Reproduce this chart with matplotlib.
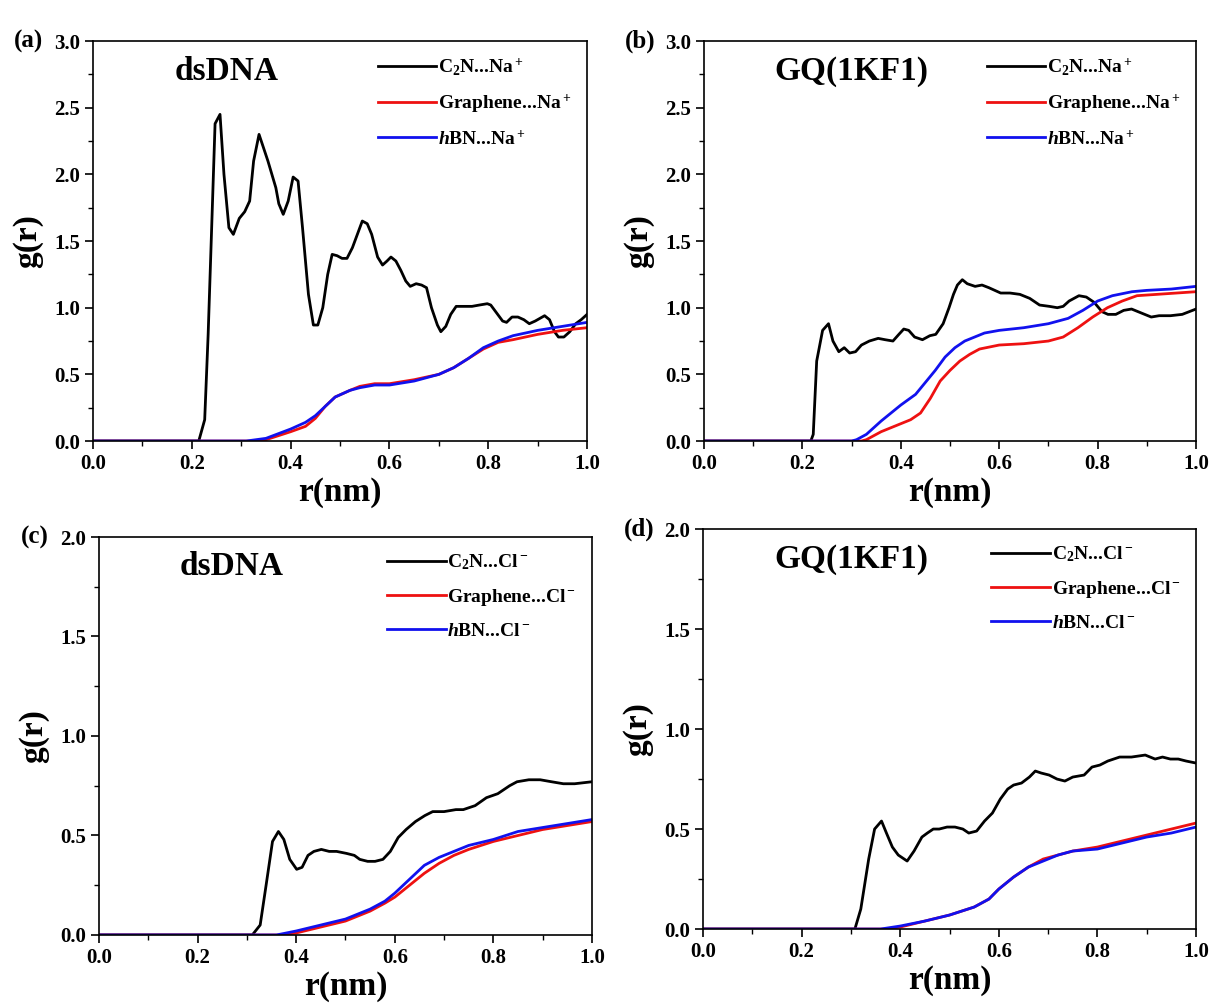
import matplotlib
matplotlib.use("Agg")
import matplotlib.pyplot as plt
from matplotlib.ticker import MultipleLocator, FormatStrFormatter

plt.rcParams['font.family'] = ['Liberation Serif', 'DejaVu Serif']
plt.rcParams['font.weight'] = 'bold'
plt.rcParams['mathtext.fontset'] = 'custom'
plt.rcParams['mathtext.rm'] = 'Liberation Serif:bold'
plt.rcParams['mathtext.bf'] = 'Liberation Serif:bold'
plt.rcParams['mathtext.it'] = 'Liberation Serif:bold:italic'

# ---- (a) dsDNA, Na+ ----
a_c2n_r = [0.0, 0.214, 0.226, 0.233, 0.241, 0.247, 0.257, 0.265, 0.275, 0.284, 0.296, 0.307,
           0.317, 0.325, 0.336, 0.354, 0.370, 0.376, 0.385, 0.395, 0.405, 0.415, 0.424,
           0.436, 0.446, 0.455, 0.465, 0.475, 0.484, 0.494, 0.504, 0.514, 0.525, 0.537,
           0.545, 0.555, 0.564, 0.576, 0.586, 0.595, 0.603, 0.613, 0.623, 0.633, 0.642,
           0.654, 0.665, 0.675, 0.685, 0.697, 0.704, 0.714, 0.724, 0.735, 0.751, 0.767,
           0.782, 0.798, 0.805, 0.817, 0.829, 0.837, 0.848, 0.860, 0.872, 0.883, 0.895,
           0.914, 0.924, 0.934, 0.942, 0.953, 0.965, 0.977, 0.988, 1.0]
a_c2n_g = [0.0, 0.0, 0.16, 0.8, 1.7, 2.38, 2.45, 2.0, 1.60, 1.55, 1.67, 1.72,
           1.80, 2.10, 2.30, 2.10, 1.90, 1.78, 1.70, 1.80, 1.98, 1.95, 1.60,
           1.10, 0.87, 0.87, 1.00, 1.25, 1.40, 1.39, 1.37, 1.37, 1.45, 1.57,
           1.65, 1.63, 1.55, 1.38, 1.32, 1.35, 1.38, 1.35, 1.28, 1.20, 1.16,
           1.18, 1.17, 1.15, 1.00, 0.87, 0.82, 0.86, 0.95, 1.01, 1.01, 1.01,
           1.02, 1.03, 1.02, 0.96, 0.90, 0.89, 0.93, 0.93, 0.91, 0.88, 0.90,
           0.94, 0.91, 0.82, 0.78, 0.78, 0.82, 0.88, 0.91, 0.95]
a_gra_r = [0.0, 0.33, 0.35, 0.40, 0.43, 0.45, 0.47, 0.49, 0.52, 0.54, 0.57, 0.60, 0.65,
           0.70, 0.73, 0.76, 0.79, 0.82, 0.85, 0.90, 0.95, 1.0]
a_gra_g = [0.0, 0.0, 0.01, 0.07, 0.11, 0.17, 0.26, 0.33, 0.38, 0.41, 0.43, 0.43, 0.46,
           0.50, 0.55, 0.62, 0.69, 0.74, 0.76, 0.80, 0.83, 0.85]
a_hbn_r = [0.0, 0.31, 0.35, 0.40, 0.43, 0.45, 0.47, 0.49, 0.52, 0.54, 0.57, 0.60, 0.65,
           0.70, 0.73, 0.76, 0.79, 0.82, 0.85, 0.90, 0.95, 1.0]
a_hbn_g = [0.0, 0.0, 0.02, 0.09, 0.14, 0.19, 0.26, 0.33, 0.38, 0.40, 0.42, 0.42, 0.45,
           0.50, 0.55, 0.62, 0.70, 0.75, 0.79, 0.83, 0.86, 0.89]

# ---- (b) GQ(1KF1), Na+ ----
b_c2n_r = [0.0, 0.217, 0.222, 0.229, 0.241, 0.253, 0.262, 0.274, 0.285, 0.296, 0.308, 0.320,
           0.336, 0.354, 0.368, 0.384, 0.396, 0.406, 0.416, 0.428, 0.444, 0.459, 0.471,
           0.486, 0.498, 0.507, 0.515, 0.525, 0.535, 0.551, 0.565, 0.579, 0.591, 0.603,
           0.622, 0.642, 0.662, 0.682, 0.702, 0.718, 0.730, 0.742, 0.762, 0.777, 0.793,
           0.809, 0.821, 0.837, 0.853, 0.869, 0.889, 0.909, 0.925, 0.948, 0.972, 1.0]
b_c2n_g = [0.0, 0.0, 0.05, 0.6, 0.83, 0.88, 0.75, 0.67, 0.70, 0.66, 0.67, 0.72,
           0.75, 0.77, 0.76, 0.75, 0.80, 0.84, 0.83, 0.78, 0.76, 0.79, 0.80,
           0.88, 1.00, 1.10, 1.17, 1.21, 1.18, 1.16, 1.17, 1.15, 1.13, 1.11,
           1.11, 1.10, 1.07, 1.02, 1.01, 1.00, 1.01, 1.05, 1.09, 1.08, 1.04,
           0.97, 0.95, 0.95, 0.98, 0.99, 0.96, 0.93, 0.94, 0.94, 0.95, 0.99]
b_gra_r = [0.0, 0.32, 0.33, 0.36, 0.40, 0.42, 0.44, 0.46, 0.48, 0.50, 0.52, 0.54, 0.56,
           0.60, 0.65, 0.70, 0.73, 0.76, 0.79, 0.82, 0.85, 0.88, 0.92, 1.0]
b_gra_g = [0.0, 0.0, 0.01, 0.07, 0.13, 0.16, 0.21, 0.32, 0.45, 0.53, 0.60, 0.65, 0.69,
           0.72, 0.73, 0.75, 0.78, 0.85, 0.93, 1.00, 1.05, 1.09, 1.10, 1.12]
b_hbn_r = [0.0, 0.30, 0.31, 0.33, 0.36, 0.38, 0.40, 0.43, 0.45, 0.47, 0.49, 0.51, 0.53,
           0.55, 0.57, 0.60, 0.65, 0.70, 0.74, 0.77, 0.80, 0.83, 0.87, 0.90, 0.95, 1.0]
b_hbn_g = [0.0, 0.0, 0.01, 0.05, 0.15, 0.21, 0.27, 0.35, 0.44, 0.53, 0.63, 0.70, 0.75,
           0.78, 0.81, 0.83, 0.85, 0.88, 0.92, 0.98, 1.05, 1.09, 1.12, 1.13, 1.14, 1.16]

# ---- (c) dsDNA, Cl- ----
c_c2n_r = [0.0, 0.311, 0.327, 0.339, 0.352, 0.364, 0.375, 0.387, 0.401, 0.412, 0.424, 0.436,
           0.451, 0.467, 0.482, 0.502, 0.518, 0.529, 0.545, 0.560, 0.576, 0.591, 0.607,
           0.623, 0.642, 0.661, 0.677, 0.700, 0.724, 0.739, 0.763, 0.786, 0.809, 0.833,
           0.848, 0.872, 0.895, 0.918, 0.942, 0.965, 1.0]
c_c2n_g = [0.0, 0.0, 0.05, 0.25, 0.47, 0.52, 0.48, 0.38, 0.33, 0.34, 0.40, 0.42,
           0.43, 0.42, 0.42, 0.41, 0.40, 0.38, 0.37, 0.37, 0.38, 0.42, 0.49,
           0.53, 0.57, 0.60, 0.62, 0.62, 0.63, 0.63, 0.65, 0.69, 0.71, 0.75,
           0.77, 0.78, 0.78, 0.77, 0.76, 0.76, 0.77]
c_gra_r = [0.0, 0.37, 0.40, 0.45, 0.50, 0.55, 0.58, 0.60, 0.63, 0.66, 0.69, 0.72, 0.75,
           0.80, 0.85, 0.90, 0.95, 1.0]
c_gra_g = [0.0, 0.0, 0.01, 0.04, 0.07, 0.12, 0.16, 0.19, 0.25, 0.31, 0.36, 0.40, 0.43,
           0.47, 0.50, 0.53, 0.55, 0.57]
c_hbn_r = [0.0, 0.36, 0.40, 0.45, 0.50, 0.55, 0.58, 0.60, 0.63, 0.66, 0.69, 0.72, 0.75,
           0.80, 0.85, 0.90, 0.95, 1.0]
c_hbn_g = [0.0, 0.0, 0.02, 0.05, 0.08, 0.13, 0.17, 0.21, 0.28, 0.35, 0.39, 0.42, 0.45,
           0.48, 0.52, 0.54, 0.56, 0.58]

# ---- (d) GQ(1KF1), Cl- ----
d_c2n_r = [0.0, 0.308, 0.320, 0.336, 0.348, 0.362, 0.372, 0.384, 0.396, 0.414, 0.428, 0.444,
           0.455, 0.467, 0.479, 0.495, 0.511, 0.527, 0.539, 0.555, 0.571, 0.587, 0.603,
           0.618, 0.630, 0.646, 0.662, 0.674, 0.686, 0.702, 0.718, 0.734, 0.750, 0.773,
           0.789, 0.805, 0.821, 0.845, 0.869, 0.897, 0.917, 0.932, 0.948, 0.964, 0.980, 1.0]
d_c2n_g = [0.0, 0.0, 0.10, 0.35, 0.50, 0.54, 0.48, 0.41, 0.37, 0.34, 0.39, 0.46,
           0.48, 0.50, 0.50, 0.51, 0.51, 0.50, 0.48, 0.49, 0.54, 0.58, 0.65,
           0.70, 0.72, 0.73, 0.76, 0.79, 0.78, 0.77, 0.75, 0.74, 0.76, 0.77,
           0.81, 0.82, 0.84, 0.86, 0.86, 0.87, 0.85, 0.86, 0.85, 0.85, 0.84, 0.83]
d_gra_r = [0.0, 0.37, 0.40, 0.45, 0.50, 0.55, 0.58, 0.60, 0.63, 0.66, 0.69, 0.72, 0.75,
           0.80, 0.85, 0.90, 0.95, 1.0]
d_gra_g = [0.0, 0.0, 0.01, 0.04, 0.07, 0.11, 0.15, 0.20, 0.26, 0.31, 0.35, 0.37, 0.39,
           0.41, 0.44, 0.47, 0.50, 0.53]
d_hbn_r = [0.0, 0.36, 0.40, 0.45, 0.50, 0.55, 0.58, 0.60, 0.63, 0.66, 0.69, 0.72, 0.75,
           0.80, 0.85, 0.90, 0.95, 1.0]
d_hbn_g = [0.0, 0.0, 0.015, 0.04, 0.07, 0.11, 0.15, 0.20, 0.26, 0.31, 0.34, 0.37, 0.39,
           0.40, 0.43, 0.46, 0.48, 0.51]

na_labels = [r'C$_2$N...Na$^+$', r'Graphene...Na$^+$', r'$h$BN...Na$^+$']
cl_labels = [r'C$_2$N...Cl$^-$', r'Graphene...Cl$^-$', r'$h$BN...Cl$^-$']

panels = [
    # tag, system, ymax, rect, series, labels
    ('(a)', 'dsDNA', 3.0, [0.0767, 0.5616, 0.4073, 0.3976],
     [(a_c2n_r, a_c2n_g), (a_gra_r, a_gra_g), (a_hbn_r, a_hbn_g)], na_labels),
    ('(b)', 'GQ(1KF1)', 3.0, [0.5804, 0.5616, 0.4056, 0.3976],
     [(b_c2n_r, b_c2n_g), (b_gra_r, b_gra_g), (b_hbn_r, b_hbn_g)], na_labels),
    ('(c)', 'dsDNA', 2.0, [0.0816, 0.0706, 0.4064, 0.3956],
     [(c_c2n_r, c_c2n_g), (c_gra_r, c_gra_g), (c_hbn_r, c_hbn_g)], cl_labels),
    ('(d)', 'GQ(1KF1)', 2.0, [0.5796, 0.0765, 0.4064, 0.3976],
     [(d_c2n_r, d_c2n_g), (d_gra_r, d_gra_g), (d_hbn_r, d_hbn_g)], cl_labels),
]
colors = ['black', '#ee1111', '#1111ee']

fig = plt.figure(figsize=(12.13, 10.06), dpi=100)

for tag, system, ymax, rect, series, labels in panels:
    ax = fig.add_axes(rect)
    for (r, g), col, lab in zip(series, colors, labels):
        ax.plot(r, g, color=col, lw=2.0, label=lab)
    ax.set_xlim(0, 1.0)
    ax.set_ylim(0, ymax)
    ax.xaxis.set_major_locator(MultipleLocator(0.2))
    ax.xaxis.set_minor_locator(MultipleLocator(0.1))
    ax.yaxis.set_major_locator(MultipleLocator(0.5))
    ax.yaxis.set_minor_locator(MultipleLocator(0.25))
    ax.xaxis.set_major_formatter(FormatStrFormatter('%.1f'))
    ax.yaxis.set_major_formatter(FormatStrFormatter('%.1f'))
    ax.tick_params(which='major', direction='out', length=6, width=1.2,
                   labelsize=15, top=False, right=False)
    ax.tick_params(which='minor', direction='out', length=3.5, width=1.0,
                   top=False, right=False)
    for lbl in ax.get_xticklabels() + ax.get_yticklabels():
        lbl.set_fontweight('bold')
    for sp in ax.spines.values():
        sp.set_linewidth(1.2)
    ax.set_xlabel('r(nm)', fontsize=24, fontweight='bold', labelpad=2)
    ax.set_ylabel('g(r)', fontsize=24, fontweight='bold', labelpad=8)
    ax.text(0.27 if system == 'dsDNA' else 0.30, 0.925, system, transform=ax.transAxes,
            ha='center', va='center', fontsize=24, fontweight='bold')
    ax.text(-0.13, 1.0, tag, transform=ax.transAxes, ha='center', va='center',
            fontsize=18, fontweight='bold')
    ax.legend(loc='upper right', bbox_to_anchor=(1.0, 1.0), frameon=False,
              prop={'family': 'Liberation Serif', 'weight': 'bold', 'size': 14},
              handlelength=3.0, handletextpad=0.1, labelspacing=0.75,
              borderaxespad=0.4)

fig.savefig('out.png', dpi=100)
